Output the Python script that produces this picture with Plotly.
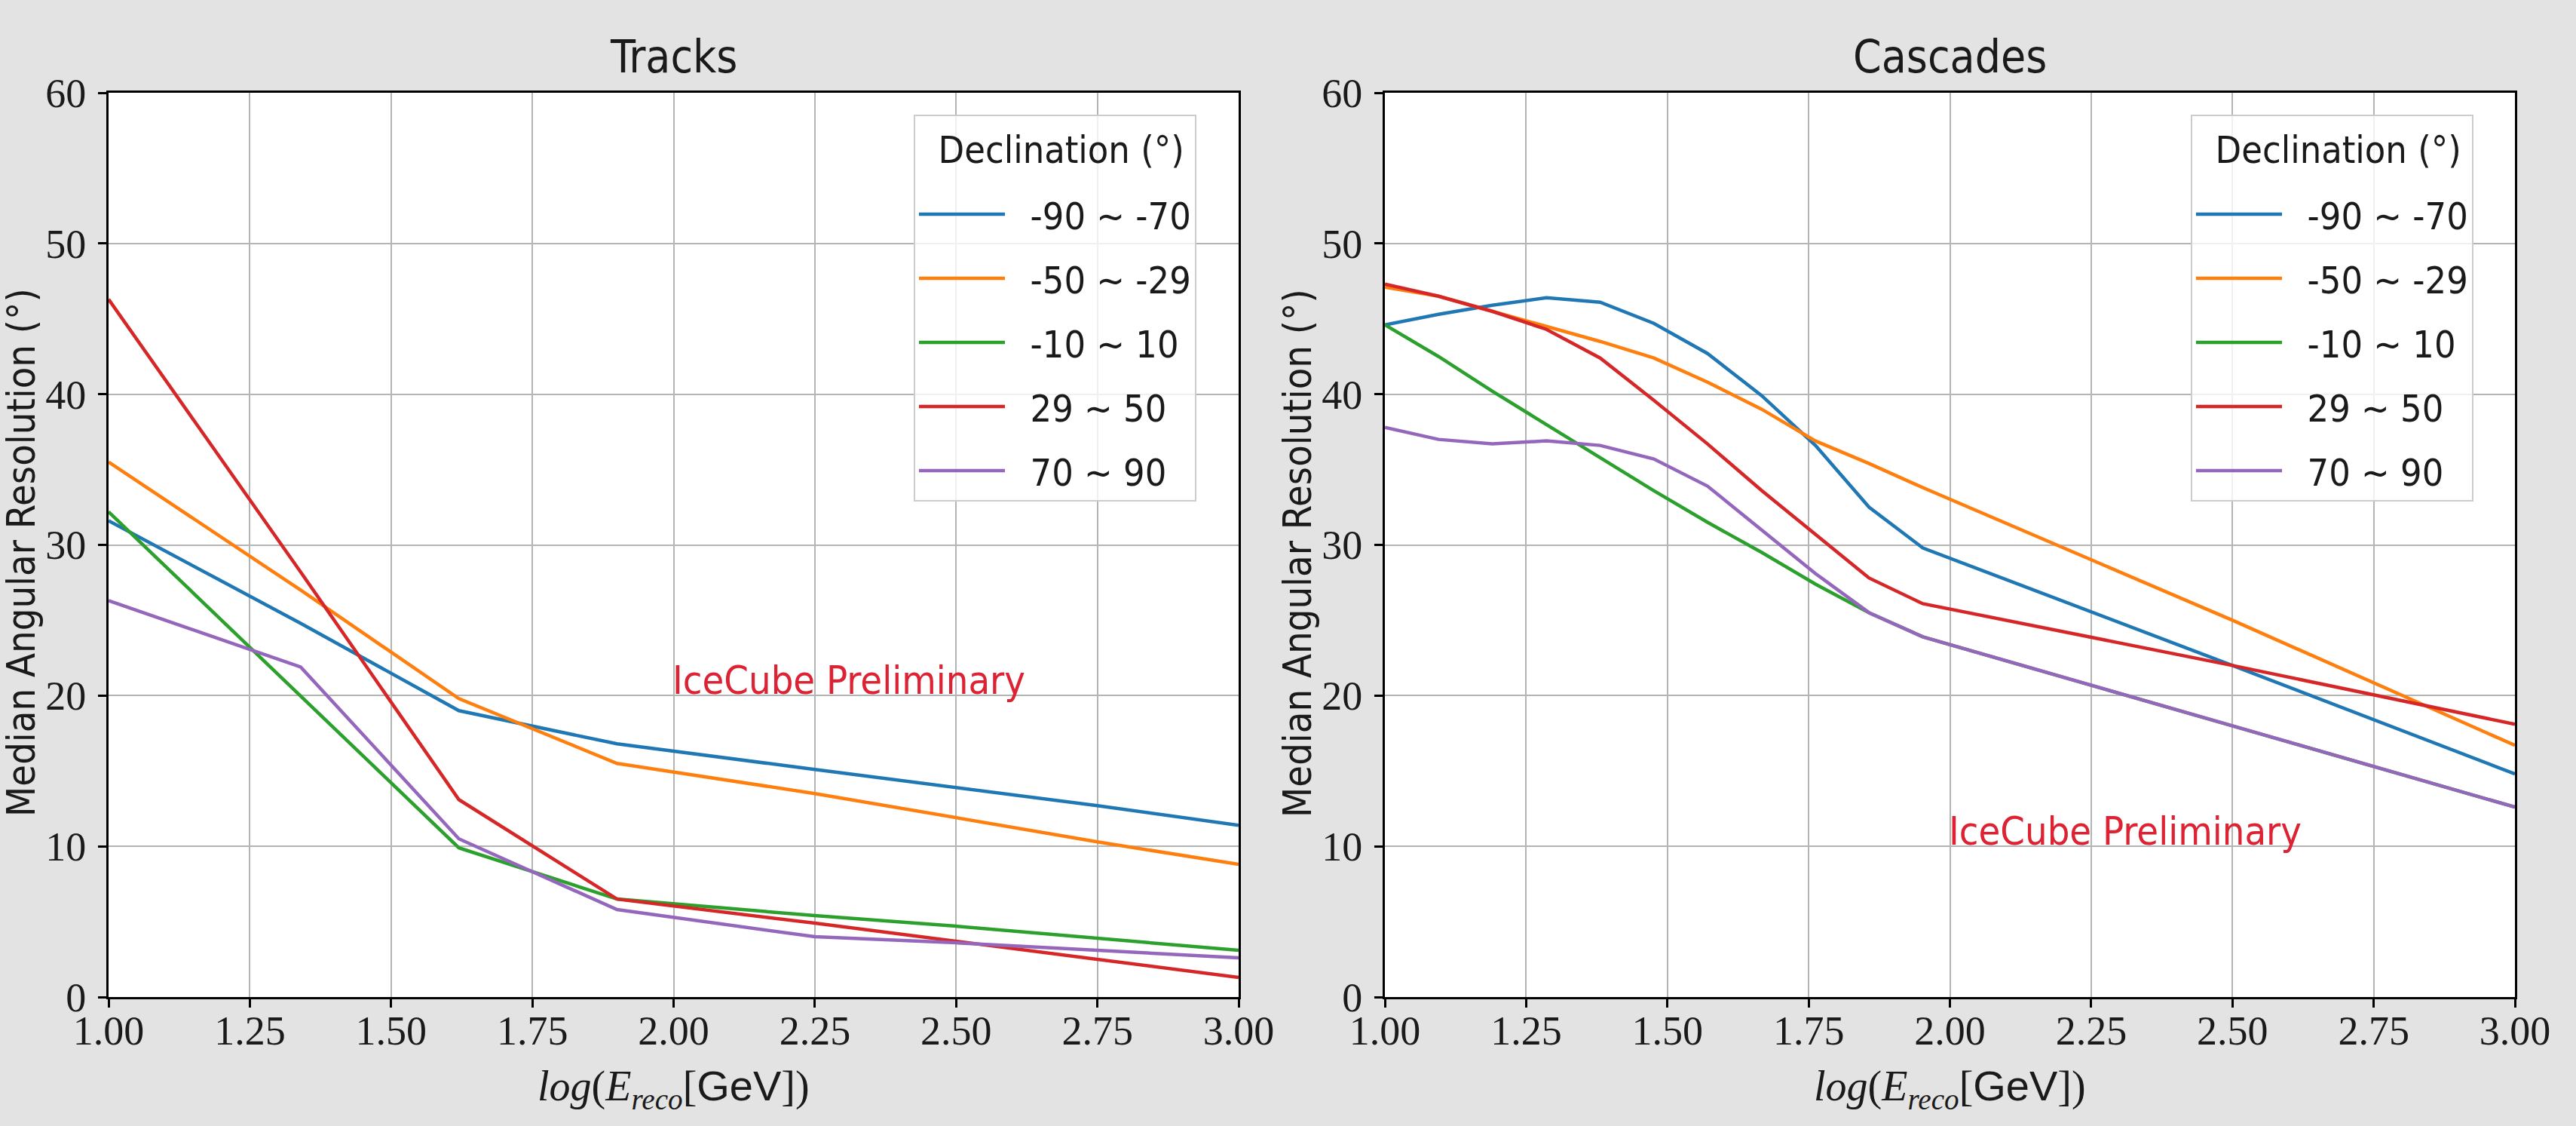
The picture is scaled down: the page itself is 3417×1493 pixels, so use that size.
import plotly.graph_objects as go

# ---- data -----------------------------------------------------------------
DEC_BANDS = ["-90 \u223c -70", "-50 \u223c -29", "-10 \u223c 10", "29 \u223c 50", "70 \u223c 90"]
COLORS = ["#1f77b4", "#ff7f0e", "#2ca02c", "#d62728", "#9467bd"]

# Tracks: median angular resolution (deg) vs log10(E_reco / GeV)
TRACK_LOGE = [1.00, 1.34, 1.62, 1.90, 2.25, 2.50, 2.75, 3.00]
TRACK_M90_M70 = [31.6, 24.8, 19.0, 16.8, 15.1, 13.9, 12.7, 11.4]
TRACK_M50_M29 = [35.5, 27.0, 19.8, 15.5, 13.5, 11.9, 10.3, 8.8]
TRACK_M10_P10 = [32.2, 20.0, 9.9, 6.5, 5.4, 4.7, 3.9, 3.1]
TRACK_P29_P50 = [46.3, 28.2, 13.1, 6.5, 4.9, 3.7, 2.5, 1.3]
TRACK_P70_P90 = [26.3, 21.9, 10.5, 5.8, 4.0, 3.6, 3.1, 2.6]

# Cascades: median angular resolution (deg) vs log10(E_reco / GeV)
CASCADE_LOGE = [1.000, 1.095, 1.190, 1.286, 1.381, 1.476, 1.571, 1.667,
                1.762, 1.857, 1.952, 2.500, 3.000]
CASCADE_M90_M70 = [44.6, 45.3, 45.9, 46.4, 46.1, 44.7, 42.7, 39.9, 36.6, 32.5, 29.8, 22.0, 14.8]
CASCADE_M50_M29 = [47.1, 46.5, 45.5, 44.5, 43.5, 42.4, 40.8, 39.0, 36.9, 35.4, 33.8, 25.0, 16.7]
CASCADE_M10_P10 = [44.6, 42.5, 40.2, 38.0, 35.8, 33.6, 31.5, 29.5, 27.4, 25.5, 23.9, 18.0, 12.6]
CASCADE_P29_P50 = [47.3, 46.5, 45.5, 44.3, 42.4, 39.6, 36.7, 33.6, 30.7, 27.8, 26.1, 22.0, 18.1]
CASCADE_P70_P90 = [37.8, 37.0, 36.7, 36.9, 36.6, 35.7, 33.9, 31.0, 28.1, 25.5, 23.9, 18.0, 12.6]

TRACK_SERIES = [TRACK_M90_M70, TRACK_M50_M29, TRACK_M10_P10, TRACK_P29_P50, TRACK_P70_P90]
CASCADE_SERIES = [CASCADE_M90_M70, CASCADE_M50_M29, CASCADE_M10_P10, CASCADE_P29_P50, CASCADE_P70_P90]

X_RANGE = [1.0, 3.0]
Y_RANGE = [0, 60]

# ---- style ------------------------------------------------------------------
W, H = 3417, 1493
SANS = "Liberation Sans Narrow, DejaVu Sans Condensed, Roboto Condensed, Liberation Sans, sans-serif"
SERIF = "Liberation Serif, DejaVu Serif, serif"
INK = "#1a1a1a"
PRELIM_RED = "#dc2233"
LINE_W = 4.5
PAD = "\u00a0\u00a0"  # gap between legend line sample and its label

fig = go.Figure()

for name, ys, color in zip(DEC_BANDS, TRACK_SERIES, COLORS):
    fig.add_trace(go.Scatter(
        x=TRACK_LOGE, y=ys, mode="lines", name=PAD + name,
        line=dict(color=color, width=LINE_W),
        xaxis="x", yaxis="y", legend="legend", legendgroup="tracks " + name,
    ))

for name, ys, color in zip(DEC_BANDS, CASCADE_SERIES, COLORS):
    fig.add_trace(go.Scatter(
        x=CASCADE_LOGE, y=ys, mode="lines", name=PAD + name,
        line=dict(color=color, width=LINE_W),
        xaxis="x2", yaxis="y2", legend="legend2", legendgroup="cascades " + name,
    ))

axis_style = dict(
    showline=True, mirror=True, linecolor="black", linewidth=3,
    ticks="outside", ticklen=11, tickwidth=2.5, tickcolor="black",
    showgrid=True, gridcolor="#b4b4b4", gridwidth=2, zeroline=False,
    automargin=False,
    tickfont=dict(family=SERIF, size=54, color=INK),
)
x_style = dict(axis_style, range=X_RANGE, tick0=1.0, dtick=0.25, tickformat=".2f",
               ticklabelstandoff=-16)
y_style = dict(axis_style, range=Y_RANGE, tick0=0, dtick=10, ticklabelstandoff=5)

left_dom = [144 / W, 1643 / W]
right_dom = [1837 / W, 3336 / W]
y_dom = [1 - 1322 / H, 1 - 123 / H]

# the title block is sized for a 70px line so the entries sit a little lower;
# the visible title glyphs stay at 50px and are raised within that block
legend_title = '<sup><span style="font-size:50px">\u00a0\u00a0Declination (\u00b0)</span></sup>'
legend_style = dict(
    bgcolor="rgba(255,255,255,0.8)", bordercolor="#cccccc", borderwidth=2,
    font=dict(family=SANS, size=50, color=INK),
    title=dict(text=legend_title, font=dict(family=SANS, size=70, color=INK)),
    itemwidth=114, tracegroupgap=17,
    xref="paper", yref="paper", xanchor="left", yanchor="top",
)

fig.update_layout(
    width=W, height=H,
    margin=dict(l=0, r=0, t=0, b=0, autoexpand=False),
    paper_bgcolor="#e3e3e3", plot_bgcolor="white",
    xaxis=dict(x_style, domain=left_dom, anchor="y"),
    yaxis=dict(y_style, domain=y_dom, anchor="x"),
    xaxis2=dict(x_style, domain=right_dom, anchor="y2"),
    yaxis2=dict(y_style, domain=y_dom, anchor="x2"),
    legend=dict(legend_style, x=1212 / W, y=1 - 152 / H),
    legend2=dict(legend_style, x=2906 / W, y=1 - 152 / H),
    showlegend=True,
)

xlabel = ('<i>log</i>(<i>E</i><sub><i>reco</i></sub>'
          '[<span style="font-family:Liberation Sans Narrow, Liberation Sans">GeV</span>])')

annotations = []
for dom, title in ((left_dom, "Tracks"), (right_dom, "Cascades")):
    cx = (dom[0] + dom[1]) / 2
    annotations.append(dict(
        text=title, xref="paper", yref="paper", x=cx, y=1 - 112 / H,
        xanchor="center", yanchor="bottom", showarrow=False,
        font=dict(family=SANS, size=60, color=INK),
    ))
    annotations.append(dict(
        text=xlabel, xref="paper", yref="paper", x=cx, y=1 - 1443 / H,
        xanchor="center", yanchor="middle", showarrow=False,
        font=dict(family=SERIF, size=56, color=INK),
    ))
    annotations.append(dict(
        text="Median Angular Resolution (\u00b0)", xref="paper", yref="paper",
        x=(dom[0] * W - 116) / W, y=1 - 733 / H, textangle=-90,
        xanchor="center", yanchor="middle", showarrow=False,
        font=dict(family=SANS, size=52, color=INK),
    ))

# preliminary tags placed in data coordinates
annotations.append(dict(
    text="IceCube Preliminary", xref="x", yref="y", x=2.0, y=20,
    xanchor="left", yanchor="bottom", yshift=-12, xshift=-4, showarrow=False,
    font=dict(family=SANS, size=52, color=PRELIM_RED),
))
annotations.append(dict(
    text="IceCube Preliminary", xref="x2", yref="y2", x=2.0, y=10,
    xanchor="left", yanchor="bottom", yshift=-12, xshift=-4, showarrow=False,
    font=dict(family=SANS, size=52, color=PRELIM_RED),
))
fig.update_layout(annotations=annotations)

fig.write_html("out.html")
